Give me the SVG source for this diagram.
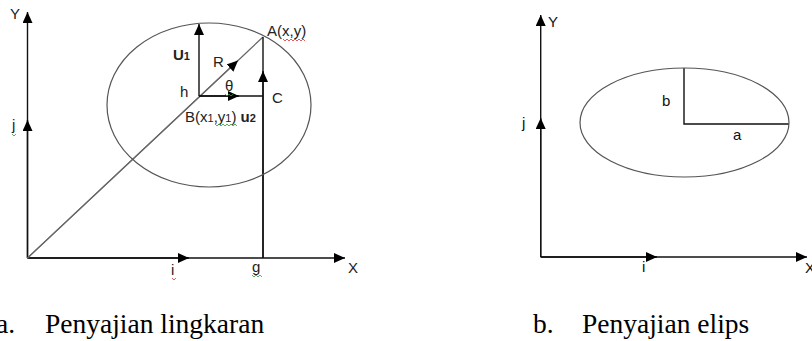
<svg xmlns="http://www.w3.org/2000/svg" width="812" height="341" viewBox="0 0 812 341">
<defs>
<marker id="ah" markerWidth="11" markerHeight="10" refX="11" refY="5" orient="auto" markerUnits="userSpaceOnUse"><path d="M0,0 L11,5 L0,10 z" fill="#000"/></marker>
<style>
.ax{stroke:#111;stroke-width:1.4;fill:none}
.gl{stroke:#666;stroke-width:1.2;fill:none}
.cv{stroke:#555;stroke-width:1.2;fill:none}
.lb{font-family:"Liberation Sans",Arial,sans-serif;font-size:15px;fill:#222}
.lr{font-family:"Liberation Sans",Arial,sans-serif;font-size:15px;fill:#111}
.cap{font-family:"Liberation Serif","Times New Roman",serif;font-size:27.5px;fill:#000}
.sq{stroke-width:0.8;fill:none}
</style>
</defs>
<rect width="812" height="341" fill="#fff"/>

<g id="circle-diagram">
<g id="connectors-a">
<line class="ax" x1="27.5" y1="258" x2="27.5" y2="12" marker-end="url(#ah)"/>
<line class="ax" x1="27.5" y1="258" x2="27.5" y2="120" marker-end="url(#ah)"/>
<line class="ax" x1="27.5" y1="258" x2="345" y2="258" marker-end="url(#ah)"/>
<line class="ax" x1="27.5" y1="258" x2="189" y2="258" marker-end="url(#ah)"/>
<line class="gl" x1="27.5" y1="258" x2="263" y2="37"/>
<line class="gl" x1="27.5" y1="258" x2="238" y2="60.5" marker-end="url(#ah)"/>
<line class="ax" x1="199" y1="96" x2="199" y2="24" marker-end="url(#ah)"/>
<line class="ax" x1="199" y1="96" x2="263" y2="96"/>
<line class="ax" x1="199" y1="96" x2="239" y2="96" marker-end="url(#ah)"/>
<line class="ax" x1="263" y1="258" x2="263" y2="37"/>
<line class="ax" x1="263" y1="258" x2="263" y2="71" marker-end="url(#ah)"/>
</g>
<g id="circle">
<ellipse class="cv" cx="209" cy="105" rx="102" ry="82"/>
</g>
<g id="labels-a">
<text class="lb" x="10" y="19">Y</text>
<text class="lb" x="348" y="273">X</text>
<text class="lb" x="12" y="130">j</text>
<text class="lb" x="171" y="275">i</text>
<text class="lb" x="252" y="272">g</text>
<text class="lb" x="267" y="36">A(x,y)</text>
<text class="lb" x="173" y="60" font-weight="bold">U<tspan font-size="11" dy="0">1</tspan></text>
<text class="lb" x="213" y="67">R</text>
<text class="lb" x="180" y="97">h</text>
<text class="lb" x="225" y="91">θ</text>
<text class="lb" x="272" y="103">C</text>
<text class="lb" x="185" y="122">B(x<tspan font-size="11">1</tspan>,y<tspan font-size="11">1</tspan>) <tspan font-weight="bold">u<tspan font-size="11">2</tspan></tspan></text>
</g>
<g id="squiggles">
<polyline class="sq" stroke="#e03030" points="283,39 285,41 287,39 289,41 291,39 293,41 295,39 297,41 299,39 301,41 303,39 305,41"/>
<polyline class="sq" stroke="#30a030" points="215,124 217,126 219,124 221,126 223,124 225,126 227,124 229,126 231,124 233,126 235,124 237,126"/>
<polyline class="sq" stroke="#30a030" points="225,94 227,96 229,94 231,96 233,94"/>
<polyline class="sq" stroke="#e03030" points="172,278 174,280 176,278"/>
<polyline class="sq" stroke="#30a030" points="252,275 254,277 256,275 258,277 260,275 262,277"/>
<polyline class="sq" stroke="#30a030" points="12,134 14,136 16,134"/>
</g>
</g>

<g id="ellipse-diagram">
<g id="connectors-b">
<line class="ax" x1="540.7" y1="257" x2="540.7" y2="15" marker-end="url(#ah)"/>
<line class="ax" x1="540.7" y1="257" x2="540.7" y2="118" marker-end="url(#ah)"/>
<line class="ax" x1="540.7" y1="257" x2="807" y2="257" marker-end="url(#ah)"/>
<line class="ax" x1="540.7" y1="257" x2="657" y2="257" marker-end="url(#ah)"/>
<polyline class="ax" points="684,68 684,124 789,124"/>
</g>
<g id="ellipse">
<ellipse class="cv" cx="684.5" cy="122.5" rx="104.5" ry="54.5"/>
</g>
<g id="labels-b">
<text class="lr" x="548" y="27">Y</text>
<text class="lr" x="522" y="128">j</text>
<text class="lr" x="662" y="106">b</text>
<text class="lr" x="733" y="140">a</text>
<text class="lr" x="642" y="272">i</text>
<text class="lr" x="805" y="273">X</text>
</g>
</g>

<g id="captions">
<text class="cap" x="-4" y="333">a.</text>
<text class="cap" x="45" y="333">Penyajian lingkaran</text>
<text class="cap" x="533" y="333">b.</text>
<text class="cap" x="582" y="333">Penyajian elips</text>
</g>
</svg>
